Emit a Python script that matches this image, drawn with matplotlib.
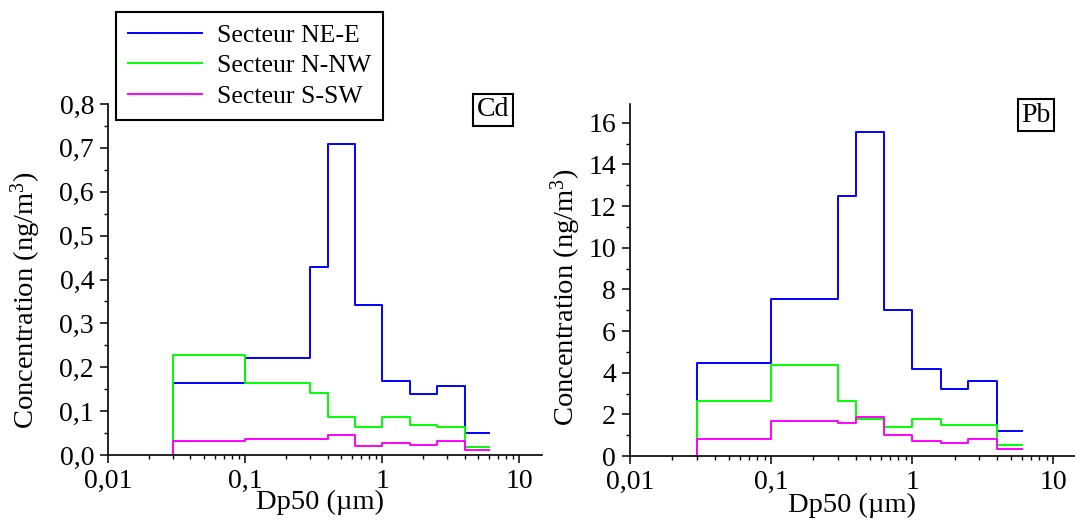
import matplotlib
matplotlib.use('Agg')
import matplotlib.pyplot as plt
from matplotlib.ticker import FuncFormatter, MultipleLocator, LogLocator, NullFormatter

# Dp50 cut points (µm)
dp50 = [0.03, 0.1, 0.3, 0.4, 0.63, 1.0, 1.6, 2.5, 4.0, 6.0]

# Cd concentrations (ng/m3), one value per size bin
cd_ne_e = [0.163, 0.222, 0.429, 0.708, 0.342, 0.168, 0.140, 0.157, 0.051]
cd_n_nw = [0.228, 0.165, 0.142, 0.086, 0.063, 0.086, 0.068, 0.063, 0.018]
cd_s_sw = [0.032, 0.036, 0.037, 0.046, 0.021, 0.027, 0.023, 0.032, 0.011]

# Pb concentrations (ng/m3)
pb_ne_e = [4.46, 7.55, 12.49, 15.56, 6.99, 4.18, 3.22, 3.59, 1.19]
pb_n_nw = [2.64, 4.38, 2.64, 1.78, 1.38, 1.78, 1.49, 1.49, 0.51]
pb_s_sw = [0.80, 1.67, 1.57, 1.89, 0.99, 0.71, 0.61, 0.80, 0.32]

labels = ['Secteur NE-E', 'Secteur N-NW', 'Secteur S-SW']
colors = ['#0000ff', '#00ff00', '#ff00ff']

TICK_FS = 20
LABEL_FS = 20.5
LEG_FS = 18.5
plt.rcParams['font.family'] = ['Liberation Serif', 'DejaVu Serif']
plt.rcParams['mathtext.fontset'] = 'custom'
plt.rcParams['mathtext.rm'] = 'Liberation Serif'
plt.rcParams['mathtext.it'] = 'Liberation Serif:italic'

fig = plt.figure(figsize=(10.75, 5.22), dpi=100)
W, H = 1075, 522


def add_axes(x0, x1, y_top, y_bot):
    return fig.add_axes([x0 / W, 1 - y_bot / H, (x1 - x0) / W, (y_bot - y_top) / H])


def comma(v, pos):
    if v >= 1:
        return '%d' % round(v)
    s = ('%.2f' % v).rstrip('0') if v < 0.1 else '%.1f' % v
    return s.replace('.', ',')


def steps(ax, series):
    lines = []
    for vals, c, lab in zip(series, colors, labels):
        x = [dp50[0]] + dp50
        y = [0] + vals + [vals[-1]]
        ln, = ax.step(x, y, where='post', color=c, lw=1.4, label=lab)
        lines.append(ln)
    return lines


def style(ax, xmax):
    ax.set_xscale('log')
    ax.set_xlim(0.01, xmax)
    for s in ['top', 'right']:
        ax.spines[s].set_visible(False)
    for s in ['left', 'bottom']:
        ax.spines[s].set_linewidth(1.2)
    ax.xaxis.set_major_locator(LogLocator(base=10, numticks=10))
    ax.xaxis.set_minor_locator(LogLocator(base=10, subs=range(2, 10), numticks=20))
    ax.xaxis.set_minor_formatter(NullFormatter())
    ax.xaxis.set_major_formatter(FuncFormatter(comma))
    ax.tick_params(which='major', length=6, width=1.1, direction='out', labelsize=TICK_FS, pad=4)
    ax.tick_params(which='minor', length=3, width=1.0, direction='out')
    ax.set_xlabel('Dp50 (µm)', fontsize=LABEL_FS)
    ax.set_ylabel('Concentration (ng/m$^3$)', fontsize=LABEL_FS)


# Cd panel
ax1 = add_axes(108, 542, 104, 455)
lines = steps(ax1, [cd_ne_e, cd_n_nw, cd_s_sw])
style(ax1, 14.7)
ax1.set_ylim(0, 0.8)
ax1.yaxis.set_major_locator(MultipleLocator(0.1))
ax1.yaxis.set_minor_locator(MultipleLocator(0.05))
ax1.yaxis.set_major_formatter(FuncFormatter(lambda v, p: ('%.1f' % v).replace('.', ',')))
ax1.yaxis.set_label_coords(-0.15, 0.44)
ax1.xaxis.set_label_coords(0.488, -0.1)
ax1.text(493 / W, 1 - 110 / H, 'Cd', transform=fig.transFigure, ha='center', va='center',
         fontsize=TICK_FS, bbox=dict(boxstyle='square,pad=0.12', fc='white', ec='black', lw=1.5))

# Pb panel
ax2 = add_axes(630, 1075, 104, 456)
steps(ax2, [pb_ne_e, pb_n_nw, pb_s_sw])
style(ax2, 14.3)
ax2.set_ylim(0, 16.9)
ax2.yaxis.set_major_locator(MultipleLocator(2))
ax2.yaxis.set_minor_locator(MultipleLocator(1))
ax2.yaxis.set_major_formatter(FuncFormatter(lambda v, p: '%d' % round(v)))
ax2.yaxis.set_label_coords(-0.106, 0.45)
ax2.xaxis.set_label_coords(0.499, -0.105)
ax2.text(1036 / W, 1 - 115 / H, 'Pb', transform=fig.transFigure, ha='center', va='center',
         fontsize=TICK_FS, bbox=dict(boxstyle='square,pad=0.12', fc='white', ec='black', lw=1.5))

leg = fig.legend(handles=lines, loc='upper left', bbox_to_anchor=(116 / W, 1 - 12 / H),
                 fontsize=LEG_FS, frameon=True, fancybox=False, framealpha=1, edgecolor='black',
                 handlelength=2.9, handletextpad=0.6, labelspacing=0.3, borderpad=0.45,
                 borderaxespad=0)
leg.get_frame().set_linewidth(1.5)

fig.savefig('out.png', dpi=100)
